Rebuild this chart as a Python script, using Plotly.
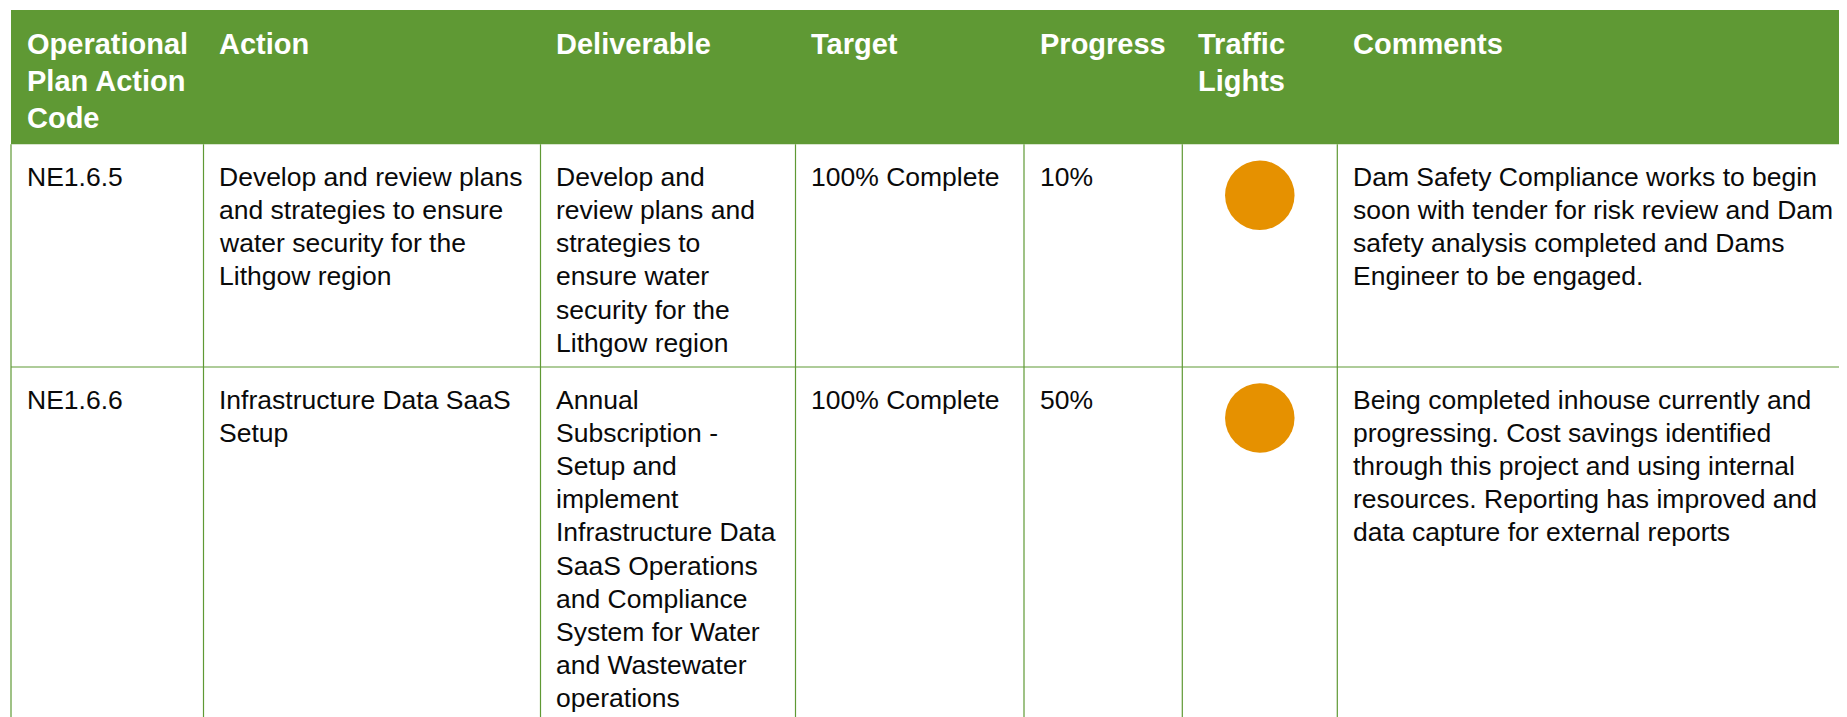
import plotly.graph_objects as go

# ---------------- data ----------------
headers = [
    ["Operational", "Plan Action", "Code"],
    ["Action"],
    ["Deliverable"],
    ["Target"],
    ["Progress"],
    ["Traffic", "Lights"],
    ["Comments"],
]

codes = ["NE1.6.5", "NE1.6.6"]

actions = [
    ["Develop and review plans", "and strategies to ensure", "water security for the", "Lithgow region"],
    ["Infrastructure Data SaaS", "Setup"],
]

deliverables = [
    ["Develop and", "review plans and", "strategies to", "ensure water", "security for the", "Lithgow region"],
    ["Annual", "Subscription -", "Setup and", "implement", "Infrastructure Data",
     "SaaS Operations", "and Compliance", "System for Water", "and Wastewater", "operations"],
]

targets = ["100% Complete", "100% Complete"]
progress = ["10%", "50%"]
traffic_lights = ["amber", "amber"]

comments = [
    ["Dam Safety Compliance works to begin", "soon with tender for risk review and Dam",
     "safety analysis completed and Dams", "Engineer to be engaged."],
    ["Being completed inhouse currently and", "progressing. Cost savings identified",
     "through this project and using internal", "resources. Reporting has improved and",
     "data capture for external reports"],
]

# ---------------- layout / style ----------------
W, H = 1847, 717
M = 8  # page body margin: figure origin sits 8px into the page
GREEN = "#5F9934"
LIGHT_COLORS = {"amber": "#E69100", "green": "#5F9934", "red": "#C00000"}
FONT = "Liberation Sans, Arial, sans-serif"
HEAD_FS = 29
BODY_FS = 26.5
col_x = [v - M for v in [11, 203.5, 540.5, 795.5, 1024, 1182.3, 1337.3]] + [W]
head_top, head_bot = 10 - M, 144.3 - M
row_tops = [144.3 - M, 367 - M]
row_bottoms = [367 - M, H]
PAD_X = 14.5
HEAD_LINE = 36.7
BODY_LINE = 33.2
HEAD_BASE = 44.3
BODY_BASE = 41.7
ASC_SHIFT = 0.3465  # baseline offset from line centre, in em

fig = go.Figure()
shapes = []
annotations = []

# header band
shapes.append(dict(type="rect", xref="x", yref="y", x0=col_x[0], x1=W, y0=head_top, y1=head_bot,
                   fillcolor=GREEN, line=dict(width=0), layer="below"))
# grid lines
for x in col_x[:-1]:
    shapes.append(dict(type="line", xref="x", yref="y", x0=x, x1=x, y0=head_bot, y1=H,
                       line=dict(color=GREEN, width=1.2)))
for yb in row_bottoms[:-1]:
    shapes.append(dict(type="line", xref="x", yref="y", x0=col_x[0], x1=W, y0=yb, y1=yb,
                       line=dict(color=GREEN, width=1.2)))


def add_lines(lines, x, base, step, fs, color, bold=False):
    for i, t in enumerate(lines):
        yb = base + i * step
        annotations.append(dict(
            x=x, y=yb - ASC_SHIFT * fs, xref="x", yref="y",
            text=("<b>%s</b>" % t) if bold else t,
            showarrow=False, xanchor="left", yanchor="middle",
            font=dict(family=FONT, size=fs, color=color), borderpad=0))


for c, lines in enumerate(headers):
    add_lines(lines, col_x[c] + PAD_X, head_top + HEAD_BASE, HEAD_LINE, HEAD_FS, "white", bold=True)

for r in range(len(codes)):
    base = row_tops[r] + BODY_BASE
    cells = [[codes[r]], actions[r], deliverables[r], [targets[r]], [progress[r]], None, comments[r]]
    for c, lines in enumerate(cells):
        if lines is None:
            continue
        add_lines(lines, col_x[c] + PAD_X, base, BODY_LINE, BODY_FS, "#0a0a0a")

# traffic lights
light_x = [(col_x[5] + col_x[6]) / 2] * len(codes)
light_y = [row_tops[r] + 51 for r in range(len(codes))]
fig.add_trace(go.Scatter(
    x=light_x, y=light_y, mode="markers",
    marker=dict(size=69.5, color=[LIGHT_COLORS[t] for t in traffic_lights], line=dict(width=0)),
    hoverinfo="skip", showlegend=False))

fig.update_layout(
    width=W, height=H, autosize=False,
    margin=dict(l=0, r=0, t=0, b=0),
    paper_bgcolor="white", plot_bgcolor="white",
    xaxis=dict(range=[0, W], visible=False, fixedrange=True),
    yaxis=dict(range=[H, 0], visible=False, fixedrange=True),
    shapes=shapes, annotations=annotations, showlegend=False,
)

fig.write_html("out.html")
